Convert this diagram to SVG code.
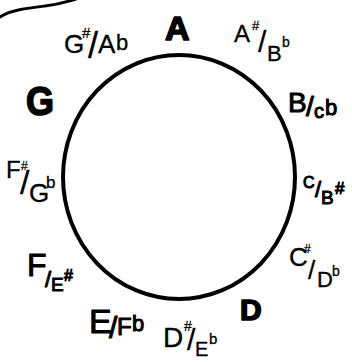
<svg xmlns="http://www.w3.org/2000/svg" width="352" height="362" viewBox="0 0 352 362">
<style>
text{font-family:"Liberation Sans","DejaVu Sans",sans-serif;fill:#000;stroke:#000;stroke-linejoin:round}
.b{stroke-width:1.6;font-weight:bold}
.m{stroke-width:1}
.t{stroke-width:0.3}
.line{fill:none;stroke:#000;stroke-linecap:round}
</style>
<rect width="352" height="362" fill="#fff"/>
<g id="connectors">
<ellipse class="line" cx="179" cy="177" rx="116" ry="122" stroke-width="4"/>
<path class="line" d="M0,17 C10,10 28,8 45,6 S65,2 76,-1" stroke-width="3"/>
</g>
<g id="A"><text class="b" x="165" y="40" font-size="34">A</text></g>
<g id="Ash"><text class="t"><tspan x="234" y="42" font-size="24">A</tspan><tspan x="252" y="30" font-size="13">#</tspan><tspan x="258" y="52" font-size="30">/</tspan><tspan x="267" y="61" font-size="22">B</tspan><tspan x="282" y="47" font-size="14">b</tspan></text></g>
<g id="B"><text class="m"><tspan x="288" y="112" font-size="28">B</tspan><tspan x="306" y="116" font-size="28">/</tspan><tspan x="314" y="118" font-size="20">c</tspan><tspan x="325" y="115" font-size="22">b</tspan></text></g>
<g id="C"><text class="m"><tspan x="303" y="188" font-size="16">C</tspan><tspan x="315" y="197" font-size="22">/</tspan><tspan x="321" y="204" font-size="19">B</tspan><tspan x="335" y="194" font-size="17">#</tspan></text></g>
<g id="Csh"><text class="t"><tspan x="289" y="266" font-size="26">C</tspan><tspan x="304" y="253" font-size="12">#</tspan><tspan x="308" y="279" font-size="26">/</tspan><tspan x="317" y="287" font-size="22">D</tspan><tspan x="332" y="276" font-size="14">b</tspan></text></g>
<g id="D"><text class="b" x="240" y="320" font-size="30">D</text></g>
<g id="Dsh"><text class="t"><tspan x="163" y="347" font-size="28">D</tspan><tspan x="184" y="331" font-size="14">#</tspan><tspan x="187" y="350" font-size="30">/</tspan><tspan x="195" y="356" font-size="20">E</tspan><tspan x="209" y="344" font-size="15">b</tspan></text></g>
<g id="E"><text class="m"><tspan x="89" y="333" font-size="34">E</tspan><tspan x="109" y="338" font-size="30">/</tspan><tspan x="117" y="335" font-size="24">F</tspan><tspan x="132" y="331" font-size="22">b</tspan></text></g>
<g id="F"><text class="m"><tspan x="27" y="276" font-size="32">F</tspan><tspan x="45" y="287" font-size="22">/</tspan><tspan x="51" y="291" font-size="19">E</tspan><tspan x="64" y="281" font-size="16">#</tspan></text></g>
<g id="Fsh"><text class="t"><tspan x="6" y="178" font-size="24">F</tspan><tspan x="21" y="170" font-size="12">#</tspan><tspan x="20" y="194" font-size="34">/</tspan><tspan x="29" y="202" font-size="26">G</tspan><tspan x="46" y="188" font-size="17">b</tspan></text></g>
<g id="G"><text class="b" x="26" y="115" font-size="40" textLength="28" lengthAdjust="spacingAndGlyphs">G</text></g>
<g id="Gsh"><text class="t"><tspan x="64" y="53" font-size="26">G</tspan><tspan x="82" y="38" font-size="15">#</tspan><tspan x="88" y="58" font-size="36">/</tspan><tspan x="98" y="53" font-size="26">A</tspan><tspan x="116" y="50" font-size="22">b</tspan></text></g>
</svg>
